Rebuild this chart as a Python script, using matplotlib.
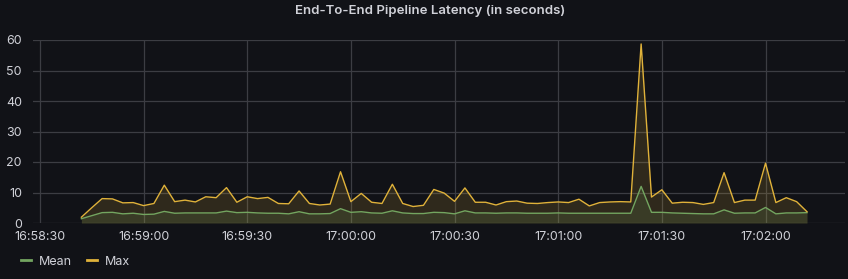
import pandas as pd
import matplotlib
matplotlib.use("Agg")
import matplotlib.pyplot as plt
import matplotlib.dates as mdates

# --- data (seconds, one sample every 3 s) ---
start_time = "2021-01-01 16:58:42"
sample_step = "3s"

max_latency = [
    1.9, 5.0, 8.0, 7.9, 6.6, 6.7, 5.7, 6.4, 12.4, 7.0,
    7.5, 6.9, 8.6, 8.3, 11.6, 6.8, 8.6, 8.0, 8.4, 6.4,
    6.3, 10.5, 6.4, 5.9, 6.2, 16.8, 7.0, 9.7, 6.8, 6.4,
    12.7, 6.4, 5.4, 5.8, 11.0, 9.8, 7.1, 11.5, 6.8, 6.8,
    5.9, 7.0, 7.2, 6.5, 6.4, 6.7, 6.9, 6.7, 7.8, 5.6,
    6.7, 6.9, 7.0, 6.9, 58.7, 8.5, 10.9, 6.5, 6.8, 6.7,
    6.1, 6.7, 16.5, 6.7, 7.5, 7.5, 19.6, 6.7, 8.3, 7.0,
    3.7,
]
mean_latency = [
    1.4, 2.4, 3.4, 3.5, 3.0, 3.2, 2.8, 2.9, 3.8, 3.2,
    3.3, 3.3, 3.3, 3.3, 3.9, 3.4, 3.5, 3.3, 3.2, 3.2,
    3.0, 3.7, 3.0, 3.0, 3.1, 4.7, 3.5, 3.7, 3.3, 3.2,
    4.0, 3.3, 3.1, 3.1, 3.5, 3.4, 3.0, 4.0, 3.3, 3.3,
    3.2, 3.3, 3.3, 3.2, 3.2, 3.2, 3.3, 3.2, 3.2, 3.2,
    3.2, 3.2, 3.2, 3.2, 12.0, 3.5, 3.5, 3.3, 3.2, 3.1,
    3.0, 3.0, 4.3, 3.2, 3.3, 3.3, 5.1, 3.0, 3.3, 3.3,
    3.4,
]
times = pd.date_range(start_time, periods=len(max_latency), freq=sample_step)

x_start = pd.Timestamp("2021-01-01 16:58:28")
x_end = pd.Timestamp("2021-01-01 17:02:23")

# --- style ---
BG = "#111217"
GRID = "#3c3d43"
TEXT = "#d0d1d8"
GREEN = "#73a560"
YELLOW = "#e0b23a"

plt.rcParams["font.family"] = ["Inter", "DejaVu Sans"]

fig = plt.figure(figsize=(8.48, 2.79), dpi=100, facecolor=BG)
ax = fig.add_axes([33 / 848, 1 - 223 / 279, (845 - 33) / 848, (223 - 40) / 279])
ax.set_facecolor(BG)

ax.fill_between(times, max_latency, 0, color=YELLOW, alpha=0.15, linewidth=0)
ax.fill_between(times, mean_latency, 0, color=GREEN, alpha=0.15, linewidth=0)
ax.plot(times, mean_latency, color=GREEN, linewidth=1.0, label="Mean")
ax.plot(times, max_latency, color=YELLOW, linewidth=1.0, label="Max")

ax.set_xlim(x_start, x_end)
ax.set_ylim(0, 60)
ax.set_yticks([0, 10, 20, 30, 40, 50, 60])
ax.xaxis.set_major_locator(mdates.SecondLocator(bysecond=[0, 30]))
ax.xaxis.set_major_formatter(mdates.DateFormatter("%H:%M:%S"))

ax.grid(True, color=GRID, linewidth=0.9)
ax.set_axisbelow(True)
for s in ax.spines.values():
    s.set_visible(False)
ax.tick_params(axis="both", length=0, colors=TEXT, labelsize=9)
ax.tick_params(axis="y", pad=8)
ax.tick_params(axis="x", pad=6)

fig.text(0.507, 1 - 11 / 279, "End-To-End Pipeline Latency (in seconds)",
         ha="center", va="center", color=TEXT, fontsize=9.5, fontweight="semibold")

leg = fig.legend(loc="lower left", bbox_to_anchor=(0.012, 0.0), ncol=2, frameon=False,
                 handlelength=0.8, handletextpad=0.6, columnspacing=1.2,
                 fontsize=9, labelcolor=TEXT)
for line in leg.get_lines():
    line.set_linewidth(2.0)

fig.savefig("out.png", dpi=100, facecolor=BG)
